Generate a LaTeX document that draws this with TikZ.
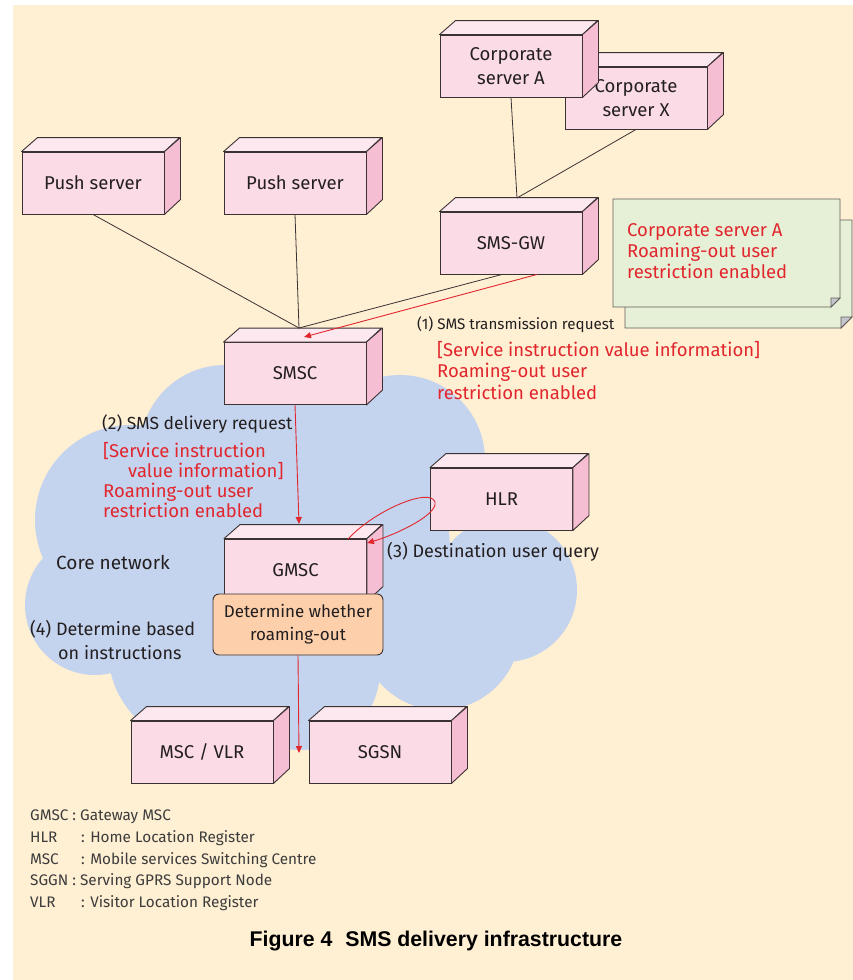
\documentclass[tikz,border=0pt]{standalone}
\usepackage{fontspec}
\setmainfont{Fira Sans}
\newfontfamily\capfont{Liberation Sans}
\usetikzlibrary{arrows.meta}

\definecolor{bgcream}{HTML}{FFEFD3}
\definecolor{cloudblue}{HTML}{C5D4EE}
\definecolor{srvfront}{HTML}{FBDCE6}
\definecolor{srvtop}{HTML}{FDE8EF}
\definecolor{srvside}{HTML}{F6BED3}
\definecolor{boxline}{HTML}{3A3233}
\definecolor{notegreen}{HTML}{E6F0D6}
\definecolor{foldgray}{HTML}{C4C6CC}
\definecolor{orangebox}{HTML}{FDCFAA}
\definecolor{msgred}{HTML}{E1262D}
\definecolor{txtdark}{HTML}{231F20}
\definecolor{legendgray}{HTML}{3C3C3C}

\tikzset{
  srv/.style={draw=boxline,fill=srvfront,line width=0.9pt,minimum width=142pt,minimum height=62pt,
    inner sep=0pt,align=center,text=txtdark,font=\fontsize{18.5}{23.5}\selectfont},
  lbl/.style={inner sep=0pt,anchor=west,text=txtdark,font=\fontsize{18}{24}\selectfont},
  redlbl/.style={inner sep=0pt,anchor=north west,align=left,text=msgred,font=\fontsize{18.5}{21}\selectfont},
  legend/.style={inner sep=0pt,anchor=west,text=legendgray,font=\fontsize{15.3}{18}\selectfont},
  link/.style={draw=boxline,line width=0.8pt},
  msg/.style={draw=msgred,line width=0.9pt,-{Triangle[length=7pt,width=6pt]}},
  note/.style={draw=boxline!80,fill=notegreen,line width=0.9pt}
}

% 3D server box: name, x, y, label
\newcommand{\srvbox}[4]{%
  \node[srv] (#1) at (#2,#3) {#4};
  \filldraw[draw=boxline,fill=srvtop,line width=0.9pt,line join=round]
    (#1.north west) -- ++(16,-14) -- ++(142,0) -- (#1.north east) -- cycle;
  \filldraw[draw=boxline,fill=srvside,line width=0.9pt,line join=round]
    (#1.north east) -- ++(16,-14) -- ++(0,62) -- (#1.south east) -- cycle;
}

\begin{document}
\begin{tikzpicture}[x=1pt,y=-1pt]
\useasboundingbox (0,0) rectangle (853,980);
\fill[white] (0,0) rectangle (853,980);
\fill[bgcream] (13,5) rectangle (853,980);

% core network cloud
\fill[cloudblue] (300,550) circle (150);
\fill[cloudblue] (225,450) circle (85);
\fill[cloudblue] (130,520) circle (95);
\fill[cloudblue] (95,605) circle (70);
\fill[cloudblue] (205,650) circle (97);
\fill[cloudblue] (300,670) circle (80);
\fill[cloudblue] (440,630) circle (80);
\fill[cloudblue] (505,590) circle (72);
\fill[cloudblue] (400,460) circle (85);

% notes
\draw[note] (625,220) -- (852,220) -- (852,317) -- (841,328) -- (625,328) -- cycle;
\filldraw[fill=foldgray,draw=boxline!80,line width=0.9pt] (852,317) -- (841,328) -- (841,317) -- cycle;
\draw[note] (613,199) -- (840,199) -- (840,298) -- (831,307) -- (613,307) -- cycle;
\filldraw[fill=foldgray,draw=boxline!80,line width=0.9pt] (840,298) -- (831,307) -- (831,298) -- cycle;
\node[redlbl] (notetxt) at (627,223) {Corporate server A\\Roaming-out user\\restriction enabled};

% servers
\srvbox{pusha}{93}{183}{Push server}
\srvbox{pushb}{295}{183}{Push server}
\srvbox{corpx}{636}{98}{Corporate\\server X}
\srvbox{corpa}{511}{66}{Corporate\\server A}
\srvbox{smsgw}{511}{243}{SMS-GW}
\srvbox{smsc}{295}{373.5}{SMSC}
\srvbox{hlr}{501.5}{499}{HLR}
\srvbox{gmsc}{295.5}{570}{GMSC}
\srvbox{mscvlr}{202}{752}{MSC / VLR}
\srvbox{sgsn}{380}{752}{SGSN}

\node[draw=boxline,fill=orangebox,line width=0.9pt,rounded corners=6pt,minimum width=170pt,minimum height=61pt,
  inner sep=0pt,align=center,text=txtdark,font=\fontsize{17}{23}\selectfont] (roam) at (298,624.5)
  {Determine whether\\roaming-out};

% connection points
\coordinate (smsctop) at (299,328);
\coordinate (smscin) at (304,337);
\coordinate (gwtop) at (517,198);
\coordinate (gmsctop) at (299,524);
\coordinate (gmscout) at (348,539);
\coordinate (gmscin) at (367,543);
\coordinate (vlrin) at (299,753);

\draw[link] (pusha.south) -- (smsctop);
\draw[link] (pushb.south) -- (smsctop);
\draw[link] ([xshift=-9pt]smsgw.south) -- (smsctop);
\draw[link] (corpa.south) -- (gwtop);
\draw[link] (corpx.south) -- (gwtop);

\draw[msg] ([xshift=26pt]smsgw.south) -- (smscin);
\draw[msg] (smsc.south) -- (gmsctop);
\draw[msg] (gmscout) .. controls (375,510) and (430,487) .. (435,502)
  .. controls (438,515) and (395,535) .. (gmscin);
\draw[msg] (roam.south) -- (vlrin);

% labels
\node[lbl,font=\fontsize{15.2}{20}\selectfont] (req1) at (417,325) {(1) SMS transmission request};
\node[redlbl,font=\fontsize{18.5}{21.5}\selectfont] (info1) at (437,341) {[Service instruction value information]\\Roaming-out user\\restriction enabled};
\node[lbl,font=\fontsize{17.5}{24}\selectfont] (req2) at (102,424) {(2) SMS delivery request};
\node[redlbl,font=\fontsize{18.5}{20}\selectfont] (info2) at (103,442) {[Service instruction\\\hspace*{25pt}value information]\\Roaming-out user\\restriction enabled};
\node[lbl,font=\fontsize{19}{24}\selectfont] (core) at (56,562) {Core network};
\node[lbl] (query) at (387,552) {(3) Destination user query};
\node[lbl,align=left] (decide) at (30,640) {(4) Determine based\\\hspace*{28pt}on instructions};

% legend
\node[legend] (lgmsc) at (30,817) {GMSC : Gateway MSC};
\node[legend] (lhlr) at (30,838) {\makebox[51pt][l]{HLR}: Home Location Register};
\node[legend] (lmsc) at (30,860) {\makebox[51pt][l]{MSC}: Mobile services Switching Centre};
\node[legend] (lsggn) at (30,881) {SGGN : Serving GPRS Support Node};
\node[legend] (lvlr) at (30,903) {\makebox[51pt][l]{VLR}: Visitor Location Register};

\node[inner sep=0pt,text=black,font=\capfont\bfseries\fontsize{21.3}{24}\selectfont] (caption) at (436,941)
  {Figure 4\hspace{0.6em}SMS delivery infrastructure};
\end{tikzpicture}
\end{document}
